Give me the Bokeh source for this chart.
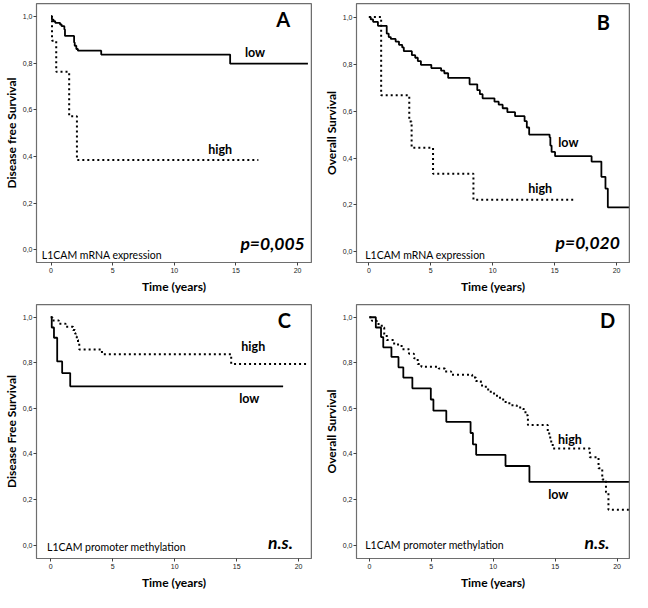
from bokeh.plotting import figure
from bokeh.models import Range1d, FixedTicker, CustomJSTickFormatter, Label, Span
from bokeh.layouts import column, row
from bokeh.embed import file_html
from bokeh.resources import INLINE

# ---------------- data ----------------
X_TICKS = [0, 5, 10, 15, 20]
Y_TICKS = [0.0, 0.2, 0.4, 0.6, 0.8, 1.0]
X_LABEL = "Time (years)"

# Panel A: L1CAM mRNA expression, disease free survival
A_LOW_T = [0.07, 0.2, 0.34, 0.73, 0.86, 1.08, 1.13, 1.87, 1.92, 2.05, 2.18, 2.31, 4.07, 14.53]
A_LOW_S = [0.986, 0.979, 0.972, 0.965, 0.958, 0.944, 0.916, 0.888, 0.874, 0.86, 0.853, 0.853, 0.836, 0.797]
A_LOW_END = 20.84
A_HIGH_T = [0.08, 0.42, 1.47, 2.10]
A_HIGH_S = [0.895, 0.762, 0.572, 0.384]
A_HIGH_END = 16.82

# Panel B: L1CAM mRNA expression, overall survival
B_LOW_T = [0.15, 0.34, 0.73, 1.44, 1.6, 1.77, 2.16, 2.43, 2.69, 2.82, 3.47, 3.74, 3.95, 4.2,
           5.04, 5.83, 6.09, 6.4, 8.13, 8.75, 8.96, 9.18, 10.14, 10.48, 10.8, 11.18, 11.8,
           12.57, 12.75, 12.94, 14.59, 14.65, 14.75, 15.03, 17.98, 18.77, 19.1, 19.29]
B_LOW_S = [0.99, 0.98, 0.963, 0.93, 0.915, 0.907, 0.896, 0.882, 0.871, 0.855, 0.838, 0.827,
           0.813, 0.797, 0.783, 0.772, 0.761, 0.741, 0.714, 0.689, 0.672, 0.654, 0.64, 0.627,
           0.612, 0.595, 0.578, 0.557, 0.53, 0.50, 0.488, 0.453, 0.426, 0.408, 0.385, 0.32,
           0.27, 0.19]
B_LOW_END = 21.0
B_HIGH_T = [0.99, 3.26, 3.45, 5.18, 8.44]
B_HIGH_S = [0.667, 0.556, 0.444, 0.333, 0.222]
B_HIGH_END = 16.73

# Panel C: L1CAM promoter methylation, disease free survival
C_LOW_T = [0.08, 0.26, 0.52, 0.92, 1.57]
C_LOW_S = [0.955, 0.91, 0.806, 0.755, 0.697]
C_LOW_END = 18.75
C_HIGH_T = [0.13, 0.65, 1.2, 1.8, 1.95, 2.0, 2.1, 2.2, 2.3, 4.13, 14.56]
C_HIGH_S = [0.986, 0.972, 0.958, 0.944, 0.93, 0.915, 0.9, 0.887, 0.859, 0.838, 0.795]
C_HIGH_END = 20.65

# Panel D: L1CAM promoter methylation, overall survival
D_LOW_T = [0.52, 0.94, 1.12, 1.78, 2.35, 2.74, 3.47, 4.96, 5.17, 6.21, 8.17, 8.36, 8.62, 10.99, 12.92]
D_LOW_S = [0.955, 0.913, 0.868, 0.826, 0.78, 0.735, 0.688, 0.639, 0.59, 0.541, 0.492, 0.442, 0.396, 0.347, 0.277]
D_LOW_END = 20.97
D_HIGH_T = [0.2, 0.6, 1.0, 1.2, 1.4, 2.0, 2.6, 3.2, 3.6, 3.9, 4.2, 5.6, 6.1, 6.6, 8.3, 8.6, 9.0,
            9.4, 9.8, 10.3, 10.8, 11.3, 11.9, 12.4, 12.6, 12.8, 14.4, 14.6, 14.8, 17.8, 18.5,
            18.8, 19.1, 19.3]
D_HIGH_S = [0.985, 0.97, 0.955, 0.925, 0.90, 0.88, 0.86, 0.84, 0.82, 0.795, 0.783, 0.775, 0.762,
            0.748, 0.735, 0.72, 0.70, 0.683, 0.665, 0.647, 0.628, 0.614, 0.604, 0.597, 0.57,
            0.527, 0.49, 0.455, 0.424, 0.386, 0.337, 0.288, 0.232, 0.155]
D_HIGH_END = 20.97

PANEL_LETTERS = ["A", "B", "C", "D"]
Y_LABELS = ["Disease free Survival", "Overall Survival", "Disease Free Survival", "Overall Survival"]
NOTES = ["L1CAM mRNA expression", "L1CAM mRNA expression",
         "L1CAM promoter methylation", "L1CAM promoter methylation"]
STATS = ["p=0,005", "p=0,020", "n.s.", "n.s."]
GROUPS = ["low", "high"]

# ---------------- helpers ----------------
FONT = "Lato"
TICK_FONT = "Liberation Sans"
FRAME = "#6e6e6e"


def km_xy(times, surv, end):
    return [0.0] + list(times) + [end], [1.0] + list(surv) + [surv[-1]]


def make_fig(w, h, mbl, mbr, mbt, mbb, xr, yr, ylabel):
    p = figure(width=w, height=h, x_range=Range1d(*xr), y_range=Range1d(*yr),
               output_backend="svg", toolbar_location=None,
               min_border_left=mbl, min_border_right=mbr,
               min_border_top=mbt, min_border_bottom=mbb)
    p.grid.visible = False
    p.outline_line_color = FRAME
    p.background_fill_color = "white"
    p.border_fill_color = "white"
    # top and right edges of the SPSS-style frame
    p.add_layout(Span(location=yr[1], dimension="width", line_color=FRAME, line_width=1.5))
    p.add_layout(Span(location=xr[1], dimension="height", line_color=FRAME, line_width=1.5))
    p.xaxis.ticker = FixedTicker(ticks=X_TICKS)
    p.yaxis.ticker = FixedTicker(ticks=Y_TICKS)
    p.yaxis.formatter = CustomJSTickFormatter(code="return tick.toFixed(1).replace('.', ',');")
    p.xaxis.axis_label = X_LABEL
    p.yaxis.axis_label = ylabel
    for ax in (p.xaxis, p.yaxis):
        ax.axis_line_color = FRAME
        ax.axis_line_width = 1.2
        ax.major_tick_line_color = "#404040"
        ax.minor_tick_line_color = None
        ax.major_tick_in = 0
        ax.major_tick_out = 3
        ax.major_label_text_font = TICK_FONT
        ax.major_label_text_font_size = "7px"
        ax.major_label_text_color = "#222222"
        ax.major_label_text_line_height = 0.9
        ax.axis_label_text_font = FONT
        ax.axis_label_text_font_size = "12px"
        ax.axis_label_text_font_style = "bold"
        ax.axis_label_text_color = "black"
        ax.axis_label_text_line_height = 0.9
    p.xaxis.major_label_standoff = 2
    p.xaxis.axis_label_standoff = 3
    p.yaxis.major_label_standoff = 1
    p.yaxis.axis_label_standoff = 1
    return p


def add_curves(p, low, high):
    lx, ly = km_xy(*low)
    hx, hy = km_xy(*high)
    p.step(hx, hy, mode="after", line_color="black", line_width=2, line_dash="2 3")
    p.step(lx, ly, mode="after", line_color="black", line_width=1.8)


def add_text(p, x, y, text, size, style="normal", align="center"):
    p.add_layout(Label(x=x, y=y, text=text, text_font=FONT, text_font_size=size,
                       text_font_style=style, text_align=align, text_baseline="middle",
                       text_color="black"))


# ---------------- figures ----------------
W_LEFT, W_RIGHT = 320, 312
H_TOP, H_BOTTOM = 296, 296

pA = make_fig(W_LEFT, H_TOP, 34, 9, 3, 31, (-1.18, 21.13), (-0.055, 1.055), Y_LABELS[0])
add_curves(pA, (A_LOW_T, A_LOW_S, A_LOW_END), (A_HIGH_T, A_HIGH_S, A_HIGH_END))
add_text(pA, 18.84, 0.987, PANEL_LETTERS[0], "20px", "bold")
add_text(pA, 16.55, 0.844, GROUPS[0], "12.5px", "bold")
add_text(pA, 13.72, 0.428, GROUPS[1], "12.5px", "bold")
add_text(pA, 17.97, 0.028, STATS[0], "17.5px", "bold italic")
add_text(pA, -0.75, -0.022, NOTES[0], "10.5px", "normal", "left")

pB = make_fig(W_RIGHT, H_TOP, 34, 3, 3, 31, (-1.0, 21.04), (-0.045, 1.058), Y_LABELS[1])
add_curves(pB, (B_LOW_T, B_LOW_S, B_LOW_END), (B_HIGH_T, B_HIGH_S, B_HIGH_END))
add_text(pB, 18.93, 0.98, PANEL_LETTERS[1], "20px", "bold")
add_text(pB, 16.1, 0.466, GROUPS[0], "12.5px", "bold")
add_text(pB, 13.83, 0.271, GROUPS[1], "12.5px", "bold")
add_text(pB, 17.67, 0.039, STATS[1], "17.5px", "bold italic")
add_text(pB, -0.3, -0.011, NOTES[1], "10.5px", "normal", "left")

pC = make_fig(W_LEFT, H_BOTTOM, 34, 9, 8, 31, (-1.15, 21.04), (-0.059, 1.056), Y_LABELS[2])
add_curves(pC, (C_LOW_T, C_LOW_S, C_LOW_END), (C_HIGH_T, C_HIGH_S, C_HIGH_END))
add_text(pC, 18.85, 0.989, PANEL_LETTERS[2], "20px", "bold")
add_text(pC, 16.34, 0.87, GROUPS[1], "12.5px", "bold")
add_text(pC, 16.02, 0.642, GROUPS[0], "12.5px", "bold")
add_text(pC, 18.53, 0.013, STATS[2], "17.5px", "bold italic")
add_text(pC, -0.3, -0.008, NOTES[2], "10.5px", "normal", "left")

pD = make_fig(W_RIGHT, H_BOTTOM, 34, 3, 8, 31, (-1.04, 21.0), (-0.059, 1.056), Y_LABELS[3])
add_curves(pD, (D_LOW_T, D_LOW_S, D_LOW_END), (D_HIGH_T, D_HIGH_S, D_HIGH_END))
add_text(pD, 19.24, 0.986, PANEL_LETTERS[3], "20px", "bold")
add_text(pD, 16.19, 0.464, GROUPS[1], "12.5px", "bold")
add_text(pD, 15.25, 0.224, GROUPS[0], "12.5px", "bold")
add_text(pD, 18.38, 0.013, STATS[3], "17.5px", "bold italic")
add_text(pD, -0.34, 0.0, NOTES[3], "10.5px", "normal", "left")

layout = column(row(pA, pB), row(pC, pD))

open("out.html", "w").write(file_html(layout, INLINE))
